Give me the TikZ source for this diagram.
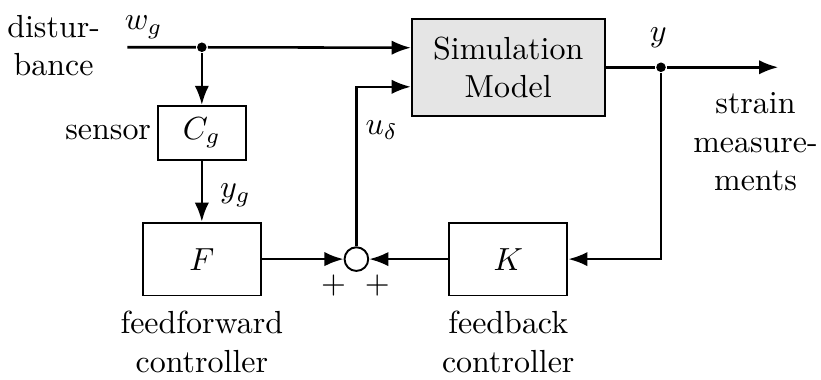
\documentclass[tikz,border=0pt]{standalone}
\usepackage{amsmath,amsfonts}
\usepackage{tikz}
\usetikzlibrary{arrows.meta}

\begin{document}
\begin{tikzpicture}[>={Latex[length=6pt,width=4.5pt]}, thick, bnode/.style={draw,semithick,rectangle,inner sep=0pt}, snode/.style={draw,semithick,circle,minimum size=0.26cm,inner sep=0pt}, dot/.style={fill,circle,inner sep=0pt,minimum size=3pt}]
    \useasboundingbox (0,0) rectangle (9.03,-4.17);
    \node[bnode,fill=gray!20,minimum width=2.12cm,minimum height=1.07cm,align=center] (sim) at (5.59,-0.74) {Simulation\\Model};
    \node[bnode,minimum width=0.97cm,minimum height=0.59cm] (Cg) at (2.22,-1.46) {$C_g$};
    \node[bnode,minimum width=1.30cm,minimum height=0.80cm] (F) at (2.22,-2.85) {$F$};
    \node[bnode,minimum width=1.30cm,minimum height=0.80cm] (K) at (5.59,-2.85) {$K$};
    \node[snode] (sum) at (3.92,-2.85) {};
    \coordinate (win) at (1.40,-0.52);
    \node[dot] (wsplit) at (2.22,-0.52) {};
    \node[dot] (ysplit) at (7.27,-0.74) {};
    \coordinate (yout) at (8.56,-0.74);

    \node (dist) at (0.59,-0.50) [align=center] {distur-\\bance};
    \node (wg) at (1.58,-0.30) {$w_g$};
    \node (sens) at (1.19,-1.46) {sensor};
    \node (yg) at (2.59,-2.15) {$y_g$};
    \node (ud) at (4.20,-1.43) {$u_\delta$};
    \node (y) at (7.24,-0.41) {$y$};
    \node (strain) at (8.31,-1.56) [align=center] {strain\\measure-\\ments};
    \node (p1) at (3.67,-3.14) {$+$};
    \node (p2) at (4.15,-3.14) {$+$};
    \node (ff) at (2.22,-3.76) [align=center] {feedforward\\controller};
    \node (fb) at (5.59,-3.76) [align=center] {feedback\\controller};

    \draw[->] (win) -- (wsplit) -- ([yshift=0.215cm]sim.west);
    \draw[->] (wsplit) -- (Cg);
    \draw[->] (Cg) -- (F);
    \draw[->] (F) -- (sum);
    \draw[->] (K) -- (sum);
    \draw[->] (sum) |- ([yshift=-0.215cm]sim.west);
    \draw[->] (sim) -- (ysplit) -- (yout);
    \draw[->] (ysplit) |- (K);
\end{tikzpicture}
\end{document}
